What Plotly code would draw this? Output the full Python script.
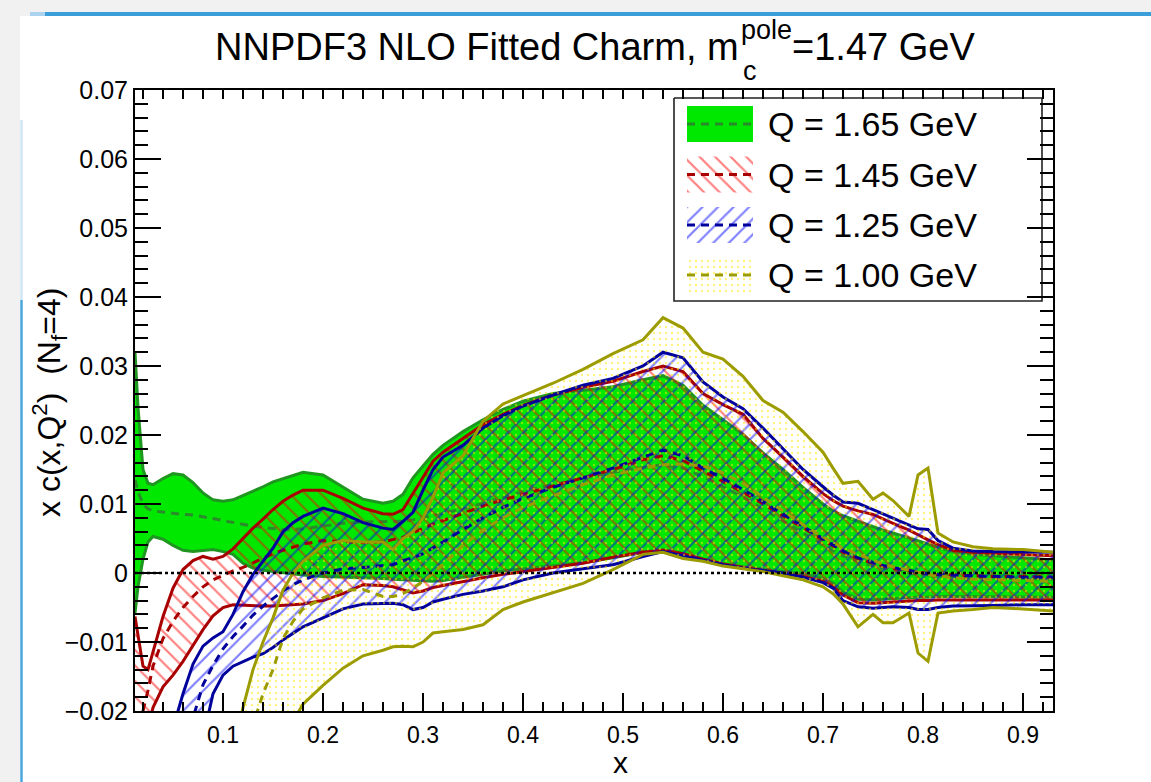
import plotly.graph_objects as go

# ---------------- data ----------------
X = [0.012, 0.015, 0.02, 0.025, 0.03, 0.04, 0.05, 0.06, 0.07, 0.08,
     0.09, 0.10, 0.11, 0.12, 0.13, 0.14, 0.15, 0.16, 0.17, 0.18,
     0.20, 0.22, 0.24, 0.26, 0.27, 0.28, 0.29, 0.30, 0.31, 0.32,
     0.34, 0.36, 0.38, 0.40, 0.43, 0.46, 0.49, 0.52, 0.54, 0.56,
     0.58, 0.60, 0.62, 0.64, 0.66, 0.68, 0.70, 0.71, 0.72, 0.735,
     0.75, 0.76, 0.77, 0.786, 0.795, 0.805, 0.815, 0.83, 0.85, 0.87,
     0.90, 0.93]

# Q = 1.65 GeV
G_HI = [0.0320, 0.0240, 0.0150, 0.0130, 0.0128, 0.0137, 0.0144, 0.0142, 0.0131, 0.0116,
        0.0106, 0.0104, 0.0106, 0.0112, 0.0118, 0.0125, 0.0132, 0.0137, 0.0142, 0.0146,
        0.0142, 0.0125, 0.0107, 0.0101, 0.0104, 0.0114, 0.0138, 0.0155, 0.0172, 0.0185,
        0.0205, 0.0222, 0.0237, 0.0249, 0.0260, 0.0265, 0.0270, 0.0280, 0.0286, 0.0272,
        0.0243, 0.0222, 0.0201, 0.0174, 0.0150, 0.0124, 0.0100, 0.0090, 0.0083, 0.0075,
        0.0067, 0.0062, 0.0058, 0.0051, 0.0047, 0.0042, 0.0037, 0.0031, 0.0027, 0.0025,
        0.0022, 0.0019]
G_LO = [-0.0058, -0.0020, 0.0020, 0.0045, 0.0053, 0.0049, 0.0040, 0.0033, 0.0031, 0.0033,
        0.0034, 0.0031, 0.0027, 0.0014, 0.0007, 0.0004, 0.0002, 0.0000, -0.0002, -0.0003,
        -0.0005, -0.0006, -0.0006, -0.0008, -0.0009, -0.0010, -0.0011, -0.0012, -0.0012, -0.0011,
        -0.0007, -0.0002, 0.0003, 0.0006, 0.0010, 0.0015, 0.0022, 0.0030, 0.0034, 0.0028,
        0.0020, 0.0013, 0.0009, 0.0005, 0.0002, -0.0001, -0.0008, -0.0015, -0.0028, -0.0038,
        -0.0039, -0.0038, -0.0037, -0.0036, -0.0035, -0.0035, -0.0034, -0.0034, -0.0034, -0.0034,
        -0.0034, -0.0035]
G_C = [0.0135, 0.0118, 0.0100, 0.0093, 0.0090, 0.0088, 0.0086, 0.0085, 0.0084, 0.0082,
       0.0079, 0.0076, 0.0073, 0.0070, 0.0068, 0.0066, 0.0064, 0.0063, 0.0063, 0.0064,
       0.0068, 0.0072, 0.0074, 0.0074, 0.0074, 0.0075, 0.0077, 0.0080, 0.0083, 0.0086,
       0.0093, 0.0101, 0.0110, 0.0118, 0.0128, 0.0137, 0.0146, 0.0153, 0.0157, 0.0152,
       0.0140, 0.0125, 0.0110, 0.0093, 0.0076, 0.0058, 0.0040, 0.0032, 0.0025, 0.0017,
       0.0010, 0.0007, 0.0004, 0.0000, -0.0002, -0.0003, -0.0004, -0.0005, -0.0006, -0.0007,
       -0.0008, -0.0009]

# Q = 1.45 GeV
R_HI = [-0.0063, -0.0090, -0.0135, -0.0140, -0.0115, -0.0063, -0.0022, 0.0005, 0.0018, 0.0024,
        0.0020, 0.0024, 0.0035, 0.0050, 0.0065, 0.0078, 0.0092, 0.0104, 0.0113, 0.0120,
        0.0120, 0.0108, 0.0094, 0.0086, 0.0085, 0.0092, 0.0116, 0.0138, 0.0162, 0.0175,
        0.0195, 0.0215, 0.0230, 0.0243, 0.0258, 0.0269, 0.0278, 0.0292, 0.0300, 0.0292,
        0.0260, 0.0244, 0.0230, 0.0195, 0.0168, 0.0140, 0.0115, 0.0105, 0.0097, 0.0090,
        0.0085, 0.0078, 0.0072, 0.0062, 0.0055, 0.0048, 0.0041, 0.0033, 0.0030, 0.0029,
        0.0027, 0.0025]
R_LO = [-0.0300, -0.0280, -0.0260, -0.0225, -0.0195, -0.0165, -0.0148, -0.0128, -0.0105, -0.0082,
        -0.0062, -0.0050, -0.0046, -0.0047, -0.0048, -0.0048, -0.0048, -0.0047, -0.0046, -0.0045,
        -0.0040, -0.0030, -0.0017, -0.0018, -0.0020, -0.0025, -0.0029, -0.0026, -0.0021, -0.0018,
        -0.0012, -0.0007, -0.0002, 0.0002, 0.0009, 0.0014, 0.0023, 0.0030, 0.0033, 0.0028,
        0.0020, 0.0013, 0.0008, 0.0004, 0.0000, -0.0005, -0.0012, -0.0020, -0.0032, -0.0043,
        -0.0044, -0.0043, -0.0043, -0.0041, -0.0040, -0.0040, -0.0039, -0.0039, -0.0039, -0.0039,
        -0.0039, -0.0039]
R_C = [-0.0260, -0.0240, -0.0200, -0.0170, -0.0135, -0.0095, -0.0070, -0.0050, -0.0034, -0.0020,
       -0.0010, -0.0003, 0.0003, 0.0008, 0.0015, 0.0022, 0.0028, 0.0033, 0.0038, 0.0042,
       0.0047, 0.0046, 0.0044, 0.0045, 0.0048, 0.0052, 0.0058, 0.0065, 0.0071, 0.0076,
       0.0087, 0.0097, 0.0106, 0.0114, 0.0126, 0.0138, 0.0150, 0.0164, 0.0170, 0.0163,
       0.0148, 0.0133, 0.0117, 0.0100, 0.0083, 0.0066, 0.0048, 0.0039, 0.0030, 0.0021,
       0.0014, 0.0010, 0.0007, 0.0003, 0.0001, -0.0001, -0.0002, -0.0003, -0.0004, -0.0005,
       -0.0005, -0.0006]

# Q = 1.25 GeV
B_HI = [-0.0450, -0.0420, -0.0380, -0.0350, -0.0320, -0.0270, -0.0225, -0.0175, -0.0132, -0.0106,
        -0.0094, -0.0085, -0.0060, -0.0027, -0.0002, 0.0017, 0.0036, 0.0060, 0.0073, 0.0082,
        0.0094, 0.0086, 0.0073, 0.0065, 0.0063, 0.0075, 0.0088, 0.0120, 0.0150, 0.0168,
        0.0185, 0.0210, 0.0228, 0.0242, 0.0258, 0.0272, 0.0282, 0.0300, 0.0320, 0.0312,
        0.0277, 0.0255, 0.0238, 0.0210, 0.0180, 0.0150, 0.0125, 0.0113, 0.0103, 0.0101,
        0.0092, 0.0086, 0.0080, 0.0070, 0.0064, 0.0063, 0.0047, 0.0036, 0.0032, 0.0031,
        0.0031, 0.0030]
B_LO = [-0.0700, -0.0670, -0.0620, -0.0580, -0.0550, -0.0480, -0.0420, -0.0360, -0.0300, -0.0240,
        -0.0175, -0.0148, -0.0135, -0.0128, -0.0122, -0.0117, -0.0108, -0.0097, -0.0087, -0.0078,
        -0.0065, -0.0052, -0.0045, -0.0044, -0.0044, -0.0046, -0.0053, -0.0050, -0.0042, -0.0038,
        -0.0031, -0.0026, -0.0020, -0.0010, 0.0000, 0.0006, 0.0012, 0.0024, 0.0031, 0.0025,
        0.0018, 0.0012, 0.0007, 0.0003, 0.0000, -0.0006, -0.0014, -0.0022, -0.0040, -0.0049,
        -0.0051, -0.0050, -0.0049, -0.0050, -0.0053, -0.0053, -0.0050, -0.0048, -0.0047, -0.0047,
        -0.0046, -0.0046]
B_C = [-0.0600, -0.0570, -0.0530, -0.0490, -0.0460, -0.0390, -0.0330, -0.0270, -0.0210, -0.0162,
       -0.0134, -0.0110, -0.0092, -0.0077, -0.0061, -0.0048, -0.0037, -0.0026, -0.0017, -0.0010,
       0.0000, 0.0006, 0.0008, 0.0010, 0.0012, 0.0018, 0.0022, 0.0028, 0.0036, 0.0045,
       0.0063, 0.0080, 0.0095, 0.0108, 0.0124, 0.0138, 0.0152, 0.0168, 0.0178, 0.0170,
       0.0152, 0.0137, 0.0121, 0.0103, 0.0085, 0.0068, 0.0050, 0.0041, 0.0032, 0.0022,
       0.0015, 0.0011, 0.0008, 0.0003, 0.0001, -0.0001, -0.0002, -0.0003, -0.0004, -0.0005,
       -0.0006, -0.0006]

# Q = 1.00 GeV
O_HI = [-0.0900, -0.0880, -0.0850, -0.0820, -0.0790, -0.0720, -0.0660, -0.0600, -0.0540, -0.0480,
        -0.0410, -0.0340, -0.0260, -0.0195, -0.0140, -0.0100, -0.0065, -0.0025, 0.0000, 0.0017,
        0.0040, 0.0047, 0.0045, 0.0045, 0.0034, 0.0050, 0.0060, 0.0080, 0.0110, 0.0145,
        0.0170, 0.0220, 0.0245, 0.0257, 0.0275, 0.0295, 0.0318, 0.0338, 0.0370, 0.0355,
        0.0320, 0.0310, 0.0285, 0.0250, 0.0233, 0.0205, 0.0175, 0.0152, 0.0130, 0.0133,
        0.0107, 0.0116, 0.0105, 0.0082, 0.0142, 0.0152, 0.0058, 0.0045, 0.0038, 0.0035,
        0.0034, 0.0030]
O_LO = [-0.1200, -0.1180, -0.1150, -0.1120, -0.1100, -0.1040, -0.0980, -0.0920, -0.0860, -0.0790,
        -0.0720, -0.0640, -0.0560, -0.0480, -0.0420, -0.0360, -0.0300, -0.0255, -0.0215, -0.0190,
        -0.0163, -0.0138, -0.0120, -0.0112, -0.0107, -0.0106, -0.0107, -0.0100, -0.0087, -0.0085,
        -0.0082, -0.0075, -0.0053, -0.0042, -0.0029, -0.0015, 0.0005, 0.0027, 0.0030, 0.0021,
        0.0017, 0.0010, 0.0006, 0.0002, -0.0004, -0.0010, -0.0020, -0.0030, -0.0045, -0.0078,
        -0.0060, -0.0072, -0.0072, -0.0058, -0.0116, -0.0128, -0.0058, -0.0055, -0.0053, -0.0050,
        -0.0052, -0.0055]
O_C = [-0.1000, -0.0980, -0.0950, -0.0920, -0.0890, -0.0830, -0.0770, -0.0710, -0.0650, -0.0590,
       -0.0500, -0.0430, -0.0360, -0.0290, -0.0220, -0.0175, -0.0140, -0.0095, -0.0070, -0.0052,
       -0.0036, -0.0025, -0.0024, -0.0034, -0.0034, -0.0030, -0.0022, -0.0012, 0.0000, 0.0012,
       0.0040, 0.0062, 0.0080, 0.0095, 0.0112, 0.0128, 0.0142, 0.0152, 0.0157, 0.0158,
       0.0155, 0.0145, 0.0130, 0.0110, 0.0090, 0.0070, 0.0052, 0.0044, 0.0036, 0.0027,
       0.0018, 0.0013, 0.0009, 0.0004, 0.0001, -0.0002, -0.0004, -0.0007, -0.0009, -0.0010,
       -0.0011, -0.0012]

LABELS = ["Q = 1.65 GeV", "Q = 1.45 GeV", "Q = 1.25 GeV", "Q = 1.00 GeV"]
X_RANGE = [0.012, 0.93]
Y_RANGE = [-0.02, 0.07]
X_TICK_STEP, X_MINOR_STEP = 0.1, 0.02
Y_TICK_STEP, Y_MINOR_STEP = 0.01, 0.002

for arr in (G_HI, G_LO, G_C, R_HI, R_LO, R_C, B_HI, B_LO, B_C, O_HI, O_LO, O_C):
    assert len(arr) == len(X), len(arr)

# ---------------- geometry helpers ----------------
W, H = 1151, 782
ML, MR, MT, MB = 135, 98, 90, 71
PW, PH = W - ML - MR, H - MT - MB
FONT = "Liberation Sans, Arial, Helvetica, sans-serif"


def pxp(px):  # pixel x -> paper x
    return (px - ML) / PW


def pyp(py):  # pixel y -> paper y
    return (H - MB - py) / PH


def pxd(px):  # pixel x -> data x
    return X_RANGE[0] + (px - ML) / PW * (X_RANGE[1] - X_RANGE[0])


def pyd(py):  # pixel y -> data y
    return Y_RANGE[0] + (H - MB - py) / PH * (Y_RANGE[1] - Y_RANGE[0])


BANDS = [
    dict(hi=G_HI, lo=G_LO, c=G_C, edge="#1f961f", center="#2b8a2b",
         fill=dict(fillcolor="#00e800")),
    dict(hi=R_HI, lo=R_LO, c=R_C, edge="#a80000", center="#a80000",
         fill=dict(fillcolor="rgba(0,0,0,0)",
                   fillpattern=dict(shape="\\", fgcolor="#ff0000", size=11, solidity=0.2))),
    dict(hi=B_HI, lo=B_LO, c=B_C, edge="#00009c", center="#00009c",
         fill=dict(fillcolor="rgba(0,0,0,0)",
                   fillpattern=dict(shape="/", fgcolor="#0000ff", size=11, solidity=0.2))),
    dict(hi=O_HI, lo=O_LO, c=O_C, edge="#9c9c00", center="#9c9c00",
         fill=dict(fillcolor="rgba(0,0,0,0)",
                   fillpattern=dict(shape=".", fgcolor="#ffe600", size=6, solidity=0.12))),
]
DASH = "8px,6px"

fig = go.Figure()

for b in BANDS:
    fig.add_trace(go.Scatter(
        x=X + X[::-1], y=b["hi"] + b["lo"][::-1], mode="lines", fill="toself",
        line=dict(width=0), hoverinfo="skip", showlegend=False, **b["fill"]))
    for key in ("hi", "lo"):
        fig.add_trace(go.Scatter(x=X, y=b[key], mode="lines",
                                 line=dict(color=b["edge"], width=3),
                                 hoverinfo="skip", showlegend=False))
    fig.add_trace(go.Scatter(x=X, y=b["c"], mode="lines",
                             line=dict(color=b["center"], width=3, dash=DASH),
                             hoverinfo="skip", showlegend=False))

# ---------------- custom legend (on overlay axes x2/y2) ----------------
LBOX = (674, 98, 1042, 301)
fig.add_trace(go.Scatter(
    x=[pxd(LBOX[0]), pxd(LBOX[2]), pxd(LBOX[2]), pxd(LBOX[0]), pxd(LBOX[0])],
    y=[pyd(LBOX[1]), pyd(LBOX[1]), pyd(LBOX[3]), pyd(LBOX[3]), pyd(LBOX[1])],
    mode="lines", fill="toself", fillcolor="white",
    line=dict(color="#222222", width=1.6), xaxis="x2", yaxis="y2",
    hoverinfo="skip", showlegend=False))

ROW_Y = [124, 174.5, 225, 275]
SW_X0, SW_X1, SW_H = 687, 753, 36
for b, cy, lab in zip(BANDS, ROW_Y, LABELS):
    x0, x1 = pxd(SW_X0), pxd(SW_X1)
    y0, y1 = pyd(cy - SW_H / 2), pyd(cy + SW_H / 2)
    fig.add_trace(go.Scatter(
        x=[x0, x1, x1, x0, x0], y=[y0, y0, y1, y1, y0], mode="lines", fill="toself",
        line=dict(width=0), xaxis="x2", yaxis="y2", hoverinfo="skip", showlegend=False,
        **b["fill"]))
    fig.add_trace(go.Scatter(
        x=[x0, x1], y=[pyd(cy), pyd(cy)], mode="lines",
        line=dict(color=b["center"], width=3, dash=DASH),
        xaxis="x2", yaxis="y2", hoverinfo="skip", showlegend=False))
    fig.add_annotation(x=pxp(766), y=pyp(cy), xref="paper", yref="paper",
                       text=lab, showarrow=False, xanchor="left", yanchor="middle",
                       font=dict(family=FONT, size=34, color="black"))

# ---------------- slide background decoration ----------------
shapes = [
    dict(type="rect", xref="paper", yref="paper", x0=pxp(20), x1=pxp(W + 5),
         y0=pyp(16), y1=pyp(H + 5), fillcolor="white", line=dict(width=0), layer="below"),
    dict(type="line", xref="paper", yref="paper", x0=pxp(30), x1=pxp(45),
         y0=pyp(14), y1=pyp(14), line=dict(color="#a9d3ee", width=4), layer="below"),
    dict(type="line", xref="paper", yref="paper", x0=pxp(45), x1=pxp(W + 5),
         y0=pyp(14), y1=pyp(14), line=dict(color="#3a9ed8", width=4), layer="below"),
    dict(type="line", xref="paper", yref="paper", x0=pxp(21.5), x1=pxp(21.5),
         y0=pyp(120), y1=pyp(300), line=dict(color="#cfe6f5", width=2.5), layer="below"),
    dict(type="line", xref="paper", yref="paper", x0=pxp(21.5), x1=pxp(21.5),
         y0=pyp(300), y1=pyp(H + 5), line=dict(color="#48a6dc", width=2.5), layer="below"),
    # dotted zero line
    dict(type="line", xref="paper", yref="y", x0=0, x1=1, y0=0, y1=0,
         line=dict(color="black", width=2.5, dash="dot"), layer="above"),
]

# ---------------- titles ----------------
ann = [
    dict(x=pxp(741), y=pyp(47), text="NNPDF3 NLO Fitted Charm, m", xanchor="right",
         font=dict(size=38)),
    dict(x=pxp(739), y=pyp(30), text="pole", xanchor="left", font=dict(size=27)),
    dict(x=pxp(741), y=pyp(71), text="c", xanchor="left", font=dict(size=27)),
    dict(x=pxp(790), y=pyp(47), text="=1.47 GeV", xanchor="left", font=dict(size=38)),
    dict(x=pxp(620), y=pyp(762), text="x", xanchor="center", font=dict(size=30)),
    dict(x=pxp(49), y=pyp(403), text="x c(x,Q<sup>2</sup>)  (N<sub>f</sub>=4)",
         xanchor="center", textangle=-90, font=dict(size=32)),
]
for a in ann:
    a.update(xref="paper", yref="paper", showarrow=False, yanchor="middle")
    a["font"].update(family=FONT, color="black")
    fig.add_annotation(**a)

tick_common = dict(tickcolor="black", tickwidth=1.6, showgrid=False, zeroline=False)

fig.update_layout(
    width=W, height=H, autosize=False,
    margin=dict(l=ML, r=MR, t=MT, b=MB, pad=0),
    paper_bgcolor="#f1f1f1", plot_bgcolor="white",
    showlegend=False, shapes=shapes,
    xaxis=dict(range=X_RANGE, showline=True, linecolor="black", linewidth=2, mirror=True,
               ticks="inside", tick0=0, dtick=X_TICK_STEP, ticklen=18,
               ticklabelstandoff=2,
               minor=dict(ticks="inside", tick0=0, dtick=X_MINOR_STEP, ticklen=9,
                          tickcolor="black", tickwidth=1.6, showgrid=False),
               tickfont=dict(family=FONT, size=23, color="black"), **tick_common),
    yaxis=dict(range=Y_RANGE, showline=True, linecolor="black", linewidth=2, mirror=True,
               ticks="inside", tick0=0, dtick=Y_TICK_STEP, ticklen=26,
               minor=dict(ticks="inside", tick0=0, dtick=Y_MINOR_STEP, ticklen=13,
                          tickcolor="black", tickwidth=1.6, showgrid=False),
               tickfont=dict(family=FONT, size=25, color="black"), **tick_common),
    xaxis2=dict(range=X_RANGE, overlaying="x", side="top", anchor="y2",
                ticks="inside", tick0=0, dtick=X_MINOR_STEP, ticklen=9,
                showticklabels=False, showline=False, **tick_common),
    yaxis2=dict(range=Y_RANGE, overlaying="y", side="right", anchor="x2",
                ticks="inside", tick0=0, dtick=Y_TICK_STEP, ticklen=26,
                minor=dict(ticks="inside", tick0=0, dtick=Y_MINOR_STEP, ticklen=13,
                           tickcolor="black", tickwidth=1.6, showgrid=False),
                showticklabels=False, showline=False, **tick_common),
)

fig.write_html("out.html")
